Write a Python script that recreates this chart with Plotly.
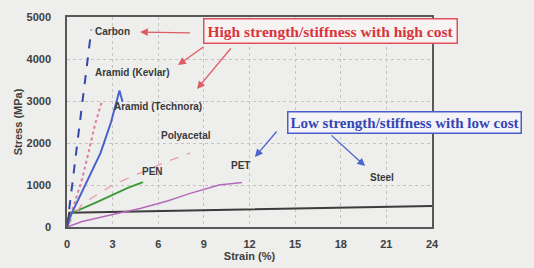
import plotly.graph_objects as go

# ---- data ----
carbon_x = [0, 1.6]
carbon_y = [0, 4700]
kevlar_x = [0, 1.0, 1.4, 1.85, 2.3]
kevlar_y = [0, 1150, 1750, 2450, 3000]
technora_x = [0, 0.2, 2.2, 2.9, 3.45, 3.65]
technora_y = [0, 240, 1760, 2500, 3250, 2980]
polyacetal_x = [0, 1, 3, 5, 6.5, 8.1]
polyacetal_y = [0, 550, 1000, 1320, 1550, 1760]
pen_x = [0, 0.3, 2, 4, 5]
pen_y = [0, 330, 600, 930, 1070]
pet_x = [0, 1, 3, 4.8, 6.6, 8.1, 10, 11.5]
pet_y = [0, 130, 300, 440, 620, 800, 1000, 1060]
steel_x = [0, 0.15, 24]
steel_y = [0, 340, 500]

x_ticks = [0, 3, 6, 9, 12, 15, 18, 21, 24]
y_ticks = [0, 1000, 2000, 3000, 4000, 5000]

labels = ["Carbon", "Aramid (Kevlar)", "Aramid (Technora)", "Polyacetal", "PEN", "PET", "Steel"]
label_x = [2.96, 4.27, 5.98, 7.82, 5.59, 11.38, 20.7]
label_y = [4643, 3690, 2881, 2190, 1310, 1476, 1190]

fig = go.Figure()

def add(x, y, color, dash, width):
    fig.add_trace(go.Scatter(x=x, y=y, mode="lines", showlegend=False,
                             line=dict(color=color, dash=dash, width=width)))

add(steel_x, steel_y, "#3c3c3c", "solid", 2)
add(pet_x, pet_y, "#b46ab8", "solid", 1.5)
add(pen_x, pen_y, "#3f9a3a", "solid", 2)
add(polyacetal_x, polyacetal_y, "#ec9aa4", "dash", 1.3)
add(kevlar_x, kevlar_y, "#e07c9c", "dot", 2)
add(technora_x, technora_y, "#4a62cc", "solid", 2)
add(carbon_x, carbon_y, "#3448a8", "dash", 2)

lab_font = dict(family="Liberation Sans, Arial", size=10, color="#3a3a3a", weight="bold")
for t, lx, ly in zip(labels, label_x, label_y):
    fig.add_annotation(x=lx, y=ly, text=t, showarrow=False, font=lab_font)

# boxes
fig.add_annotation(x=17.3, y=4667, text="High strength/stiffness with high cost", showarrow=False,
                   font=dict(family="Liberation Serif, Times New Roman", size=15.5, color="#d8363c", weight="bold"),
                   bordercolor="#e0505a", borderwidth=1.5, borderpad=3, bgcolor="#f7f3f3")
fig.add_annotation(x=22.2, y=2500, text="Low strength/stiffness with low cost", showarrow=False,
                   font=dict(family="Liberation Serif, Times New Roman", size=15, color="#3646b4", weight="bold"),
                   bordercolor="#4a5cc8", borderwidth=1.5, borderpad=2, bgcolor="#f4f4f8")

def arrow(hx, hy, tx, ty, color):
    fig.add_annotation(x=hx, y=hy, ax=tx, ay=ty, xref="x", yref="y", axref="x", ayref="y",
                       text="", showarrow=True, arrowhead=2, arrowsize=1.2, arrowwidth=1.3,
                       arrowcolor=color)

arrow(4.80, 4643, 8.19, 4619, "#e05a64")
arrow(7.30, 3857, 9.07, 4310, "#e05a64")
arrow(8.55, 3286, 10.85, 4286, "#e05a64")
arrow(12.36, 1667, 13.87, 2310, "#4a64d0")
arrow(19.6, 1452, 17.29, 2214, "#4a64d0")

tick_font = dict(family="Liberation Sans, Arial", size=11, color="#404040", weight="bold")
title_font = dict(family="Liberation Sans, Arial", size=11, color="#404040", weight="bold")

fig.update_layout(
    width=534, height=268,
    margin=dict(l=67, r=102, t=17, b=41),
    paper_bgcolor="#eeeeec", plot_bgcolor="#eeeeec",
    xaxis=dict(range=[0, 24], tickvals=x_ticks, ticktext=[str(v) for v in x_ticks],
               automargin=False,
               showgrid=True, gridcolor="#c4c4c4", griddash="dot", gridwidth=1,
               zeroline=False, showline=True, linecolor="#585858", linewidth=1.5, mirror=True,
               tickfont=tick_font, ticklabelstandoff=6,
               title=dict(text="Strain (%)", font=title_font, standoff=3)),
    yaxis=dict(range=[0, 5000], tickvals=y_ticks, ticktext=[str(v) for v in y_ticks],
               automargin=False,
               showgrid=True, gridcolor="#c4c4c4", griddash="dot", gridwidth=1,
               zeroline=False, showline=True, linecolor="#585858", linewidth=1.5, mirror=True,
               tickfont=tick_font, ticklabelstandoff=12,
               title=dict(text="Stress (MPa)", font=title_font, standoff=2)),
)

fig.write_html("out.html", config={"displayModeBar": False},
               post_script="document.body.style.margin='0';document.body.style.background='#eeeeec';")
